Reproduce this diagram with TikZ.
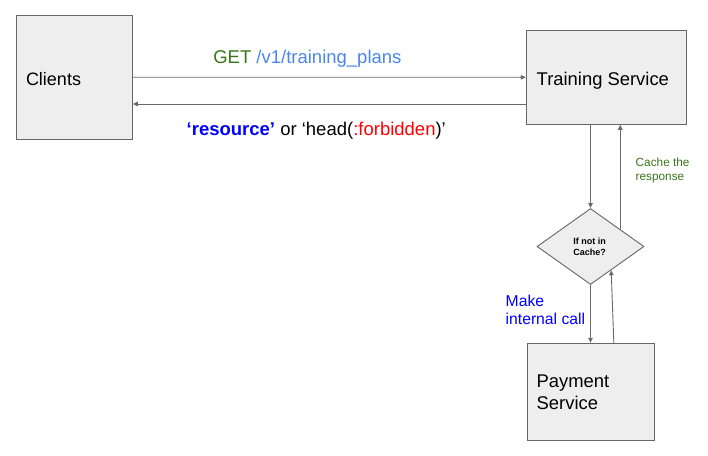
\documentclass[tikz,border=0pt]{standalone}
\usepackage{fontspec}
\setmainfont{Liberation Sans}
\usetikzlibrary{shapes.geometric,arrows.meta,calc}
\definecolor{boxfill}{HTML}{EEEEEE}
\definecolor{boxline}{HTML}{666666}
\definecolor{arrline}{HTML}{6A6A6A}
\definecolor{dgreen}{HTML}{38761D}
\definecolor{pathblue}{HTML}{4A86E8}
\definecolor{pureblue}{HTML}{0000FF}
\definecolor{pured}{HTML}{FF0000}
\tikzset{
  box/.style={draw=boxline, fill=boxfill, line width=0.9pt, inner sep=0pt, rectangle},
  decision/.style={draw=boxline, fill=boxfill, line width=0.9pt, inner sep=0pt, diamond},
  arr/.style={draw=arrline, line width=0.9pt, -{Triangle[length=5pt,width=4.5pt]}},
  txt/.style={inner sep=0pt, outer sep=0pt, anchor=base west},
}
\begin{document}
\begin{tikzpicture}[x=1pt,y=-1pt]
\useasboundingbox (0,0) rectangle (708,455);
% boxes
\node[box, minimum width=116pt, minimum height=123.7pt] (clients) at (74.3,77.2) {};
\node[box, minimum width=160pt, minimum height=94pt] (training) at (606.3,77.3) {};
\node[decision, minimum width=107pt, minimum height=76pt] (cache) at (590.5,246.5) {};
\node[box, minimum width=127pt, minimum height=96.7pt] (payment) at (590.8,391.6) {};
% box texts (multi-line nodes: base = last line)
\node[txt, font=\fontsize{18}{21}\selectfont] (clientsT) at (26,85) {Clients};
\node[txt, font=\fontsize{18.4}{22}\selectfont] (trainingT) at (536.7,85) {Training Service};
\node[txt, font=\fontsize{18.4}{21.6}\selectfont, align=left] (paymentT) at (536.7,409.3) {Payment\\Service};
\node[inner sep=0pt, anchor=base, font=\bfseries\fontsize{9}{11.4}\selectfont, align=center] (cacheT) at (589.5,255.7) {If not in\\Cache?};
% connector coordinates
\coordinate (retStart) at ($(training.north west)!0.781!(training.south west)$);
\coordinate (cacheUp) at ($(cache.north)!0.551!(cache.east)$);
\coordinate (payUpStart) at ($(payment.north west)!0.68!(payment.north east)$);
\coordinate (payUpEnd) at ($(cache.south)!0.383!(cache.east)$);
% connectors
\draw[arr] (clients.east) -- (training.west);
\draw[arr] (retStart) -- (retStart -| clients.east);
\draw[arr] (training.south -| cache.north) -- (cache.north);
\draw[arr] (cacheUp) -- (cacheUp |- training.south);
\draw[arr] (cache.south) -- (cache.south |- payment.north);
\draw[arr] (payUpStart) -- (payUpEnd);
% labels
\node[txt, font=\fontsize{18.5}{22}\selectfont] (getL) at (213.3,63.3) {\textcolor{dgreen}{GET }\textcolor{pathblue}{/v1/training\_plans}};
\node[txt, font=\fontsize{18.5}{22}\selectfont] (respL) at (186.7,135.7) {\textcolor{pureblue}{\bfseries ‘resource’} or ‘head(\textcolor{pured}{:forbidden})’};
\node[txt, font=\fontsize{11.8}{14}\selectfont, align=left, text=dgreen] (cacheL) at (635.7,180.7) {Cache the\\response};
\node[txt, font=\fontsize{15.7}{18}\selectfont, align=left, text=pureblue] (callL) at (505.7,324) {Make\\internal call};
\end{tikzpicture}
\end{document}
